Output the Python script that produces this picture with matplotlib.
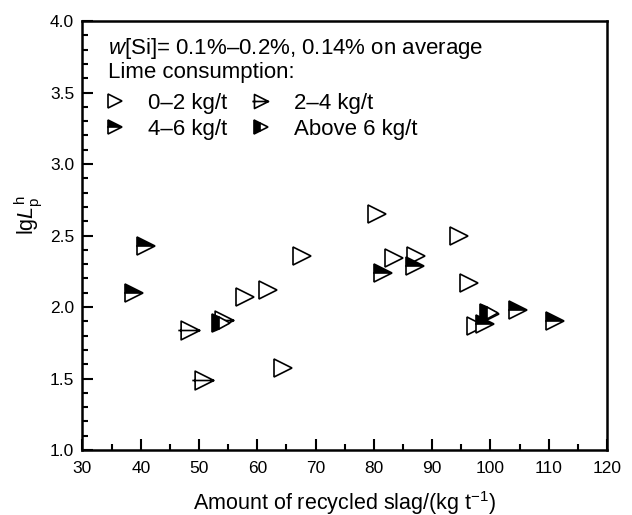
import numpy as np
import matplotlib
matplotlib.use("Agg")
import matplotlib.pyplot as plt
from matplotlib.path import Path
from matplotlib.ticker import MultipleLocator, FormatStrFormatter

plt.rcParams["font.family"] = ["Liberation Sans", "DejaVu Sans"]
plt.rcParams["mathtext.fontset"] = "custom"
plt.rcParams["mathtext.rm"] = "Liberation Sans"
plt.rcParams["mathtext.it"] = "Liberation Sans:italic"

# --------------------------------------------------
# Data
# --------------------------------------------------
# lime consumption 0-2 kg/t
x_02 = [80.5, 83.4, 87.3, 94.6, 96.4, 57.9, 61.8, 67.7, 64.4, 97.6, 99.9]
y_02 = [2.65, 2.34, 2.36, 2.50, 2.17, 2.07, 2.12, 2.36, 1.57, 1.87, 1.95]

# lime consumption 2-4 kg/t
x_24 = [48.5, 50.8, 54.3]
y_24 = [1.84, 1.49, 1.91]

# lime consumption 4-6 kg/t
x_46 = [40.9, 38.8, 81.5, 87.0, 99.0, 104.7, 111.0]
y_46 = [2.43, 2.10, 2.24, 2.29, 1.88, 1.98, 1.90]

# lime consumption above 6 kg/t
x_6p = [53.7, 99.8]
y_6p = [1.89, 1.96]

# --------------------------------------------------
# Crossed triangle marker (triangle + horizontal bar)
# --------------------------------------------------
cross_tri = Path(
    [(1, 0), (-1, 1), (-1, -1), (1, 0), (-1.3, 0), (1, 0)],
    [Path.MOVETO, Path.LINETO, Path.LINETO, Path.CLOSEPOLY,
     Path.MOVETO, Path.LINETO],
)

fig = plt.figure(figsize=(6.32, 5.15), dpi=100)
ax = fig.add_axes([0.1305, 0.1262, 0.8299, 0.833])

ms = 13.5
common = dict(linestyle="none", markeredgecolor="k", markeredgewidth=1.2)

h1, = ax.plot(x_02, y_02, marker=">", markersize=ms, markerfacecolor="white",
              label="0\u20132 kg/t", **common)
h2, = ax.plot(x_24, y_24, marker=cross_tri, markersize=ms * 1.3,
              markerfacecolor="white", label="2\u20134 kg/t", **common)
h3, = ax.plot(x_46, y_46, marker=">", markersize=ms, fillstyle="top",
              markerfacecolor="k", markerfacecoloralt="white",
              label="4\u20136 kg/t", **common)
h4, = ax.plot(x_6p, y_6p, marker=">", markersize=ms, fillstyle="left",
              markerfacecolor="k", markerfacecoloralt="white",
              label="Above 6 kg/t", **common)

ax.set_xlim(30, 120)
ax.set_ylim(1.0, 4.0)
ax.xaxis.set_major_locator(MultipleLocator(10))
ax.xaxis.set_minor_locator(MultipleLocator(5))
ax.yaxis.set_major_locator(MultipleLocator(0.5))
ax.yaxis.set_minor_locator(MultipleLocator(0.1))
ax.yaxis.set_major_formatter(FormatStrFormatter("%.1f"))

ax.tick_params(which="both", direction="in", top=False, right=False,
               labelsize=12.5, width=1.5)
ax.tick_params(axis="x", which="major", length=8, pad=8)
ax.tick_params(axis="y", which="major", length=8, pad=6)
ax.tick_params(which="minor", length=4.5)
for sp in ax.spines.values():
    sp.set_linewidth(1.8)

ax.set_xlabel("Amount of recycled slag/(kg t$^{-1}$)", fontsize=15.5, labelpad=9)
ax.set_ylabel("lg$\\mathit{L}_\\mathrm{p}^\\mathrm{h}$", fontsize=15.5,
              y=0.548, labelpad=3.5)

# annotation block
ax.text(0.048, 0.965, "$\\mathit{w}$[Si]= 0.1%\u20130.2%, 0.14% on average",
        transform=ax.transAxes, fontsize=16, va="top", ha="left")
ax.text(0.048, 0.881, "Lime consumption:",
        transform=ax.transAxes, fontsize=16, va="center", ha="left")

leg = ax.legend(handles=[h1, h3, h2, h4], ncol=2, loc="upper left",
                bbox_to_anchor=(0.041, 0.833), frameon=False, borderpad=0,
                fontsize=16, markerscale=0.75, handlelength=1.0,
                handletextpad=1.0, columnspacing=1.0, labelspacing=0.25,
                borderaxespad=0)

fig.savefig("out.png", dpi=100)
